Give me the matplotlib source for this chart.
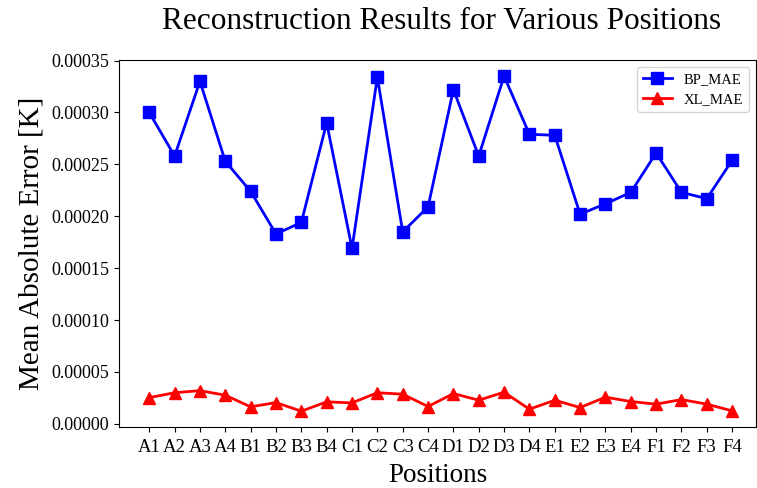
import matplotlib
matplotlib.use("Agg")
import matplotlib.pyplot as plt

positions = ["A1", "A2", "A3", "A4", "B1", "B2", "B3", "B4",
             "C1", "C2", "C3", "C4", "D1", "D2", "D3", "D4",
             "E1", "E2", "E3", "E4", "F1", "F2", "F3", "F4"]
bp_mae = [0.000300, 0.000258, 0.000330, 0.000253, 0.000224, 0.000183,
          0.000194, 0.000290, 0.000169, 0.000334, 0.000185, 0.000209,
          0.000322, 0.000258, 0.000335, 0.000279, 0.000278, 0.000202,
          0.000212, 0.000223, 0.000261, 0.000223, 0.000217, 0.000254]
xl_mae = [0.0000253, 0.0000300, 0.0000320, 0.0000276, 0.0000164, 0.0000205,
          0.0000122, 0.0000212, 0.0000202, 0.0000300, 0.0000286, 0.0000167,
          0.0000292, 0.0000228, 0.0000305, 0.0000141, 0.0000228, 0.0000157,
          0.0000257, 0.0000215, 0.0000190, 0.0000234, 0.0000190, 0.0000125]
yticks = [0.0, 0.00005, 0.0001, 0.00015, 0.0002, 0.00025, 0.0003, 0.00035]

plt.rcParams['font.family'] = ['Liberation Serif', 'DejaVu Serif']

fig = plt.figure(figsize=(7.57, 4.88), dpi=100)
ax = fig.add_axes([0.157, 0.124, 0.842, 0.754])

x = list(range(len(positions)))
ax.plot(x, bp_mae, color='blue', marker='s', markersize=8.5, linewidth=2, label='BP_MAE')
ax.plot(x, xl_mae, color='red', marker='^', markersize=8.5, linewidth=2, label='XL_MAE')

ax.set_xticks(x)
ax.set_xticklabels(positions, fontsize=13.5)
ax.set_yticks(yticks)
ax.set_yticklabels([f"{v:.5f}" for v in yticks], fontsize=13)
ax.tick_params(axis='x', pad=5)
ax.set_xlim(-1.2, 23.95)
ax.set_ylim(-0.0000035, 0.000351)

ax.set_xlabel("Positions", fontsize=19.5, labelpad=5)
ax.set_ylabel("Mean Absolute Error [K]", fontsize=21, labelpad=5)
fig.text(0.583, 0.94, "Reconstruction Results for Various Positions", fontsize=22.5, ha='center')

ax.legend(loc='upper right', fontsize=10.5)

fig.savefig("out.png", dpi=100)
